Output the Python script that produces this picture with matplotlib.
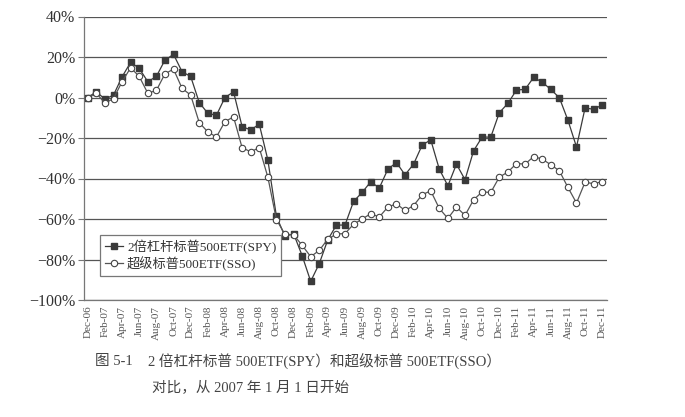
import matplotlib
matplotlib.use("Agg")
import matplotlib.pyplot as plt
import pandas as pd

months = list(pd.date_range("2006-12-01", periods=61, freq="MS").strftime("%b-%y"))

spy = [0.0, 2.8, -0.8, 1.2, 10.2, 17.4, 14.4, 7.8, 10.4, 18.5, 21.3, 12.7, 10.4,
       -2.5, -7.8, -8.8, 0.0, 2.8, -14.4, -16.0, -13.2, -30.8, -58.7, -68.6, -67.2,
       -78.1, -90.8, -82.0, -70.2, -63.0, -63.0, -51.3, -46.9, -41.6, -44.7, -35.4, -32.1,
       -38.2, -32.9, -23.5, -20.9, -35.4, -43.6, -32.9, -40.6, -26.3, -19.5, -19.6, -7.5,
       -2.9, 3.7, 4.0, 9.9, 7.6, 4.0, -0.1, -11.2, -24.4, -5.2, -5.8, -3.7]

sso = [0.0, 2.1, -2.8, -0.5, 7.8, 14.7, 10.4, 2.1, 3.5, 11.7, 14.0, 4.5, 1.2,
       -12.4, -17.0, -19.5, -11.9, -9.6, -24.8, -26.8, -24.8, -39.3, -60.3, -67.6, -67.8,
       -73.0, -78.6, -75.5, -69.9, -67.4, -67.2, -62.6, -60.0, -57.4, -59.0, -54.1, -52.5,
       -55.8, -53.4, -48.0, -46.1, -54.8, -59.7, -54.1, -58.2, -50.5, -46.6, -46.9, -39.3,
       -36.8, -32.6, -32.9, -29.2, -30.4, -33.2, -36.2, -44.4, -52.1, -41.8, -42.6, -41.5]

yticks = [-100, -80, -60, -40, -20, 0, 20, 40]
series_names = ["2倍杠杆标普500ETF(SPY)", "超级标普500ETF(SSO)"]
caption_head = "图 5-1"
caption_l1 = "2 倍杠杆标普 500ETF(SPY）和超级标普 500ETF(SSO）"
caption_l2 = "对比，从 2007 年 1 月 1 日开始"

fam = ["Liberation Serif", "Noto Sans CJK SC", "DejaVu Sans"]

W, H = 685, 417
fig = plt.figure(figsize=(W / 100, H / 100), dpi=100)
fig.patch.set_facecolor("white")
ax = fig.add_axes([83.5 / W, 1 - 300 / H, (606.5 - 83.5) / W, (300 - 16.5) / H])

x = list(range(len(months)))
ax.plot(x, spy, marker="s", ms=4.2, color="#3a3a3a", mfc="#3a3a3a", mec="#3a3a3a",
        lw=0.9, label=series_names[0], zorder=3)
ax.plot(x, sso, marker="o", ms=4.6, color="#555555", mfc="white", mec="#444444",
        mew=0.8, lw=0.9, label=series_names[1], zorder=3)

ax.set_xlim(-0.5, len(months) - 0.5)
ax.set_ylim(-100, 40)
ax.set_yticks(yticks)
ax.set_yticklabels([("−" if v < 0 else "") + f"{abs(v)}%" for v in yticks],
                   family=fam, fontsize=11.5, color="#333333")
ax.yaxis.grid(True, color="#555555", lw=0.9)
ax.set_axisbelow(True)
ax.set_xticks(x[::2])
ax.set_xticklabels(months[::2], rotation=90, family=fam, fontsize=8, color="#555555")
ax.tick_params(axis="x", length=0, pad=4)
ax.tick_params(axis="y", length=4, color="#777777", pad=2)
for s in ("top", "right"):
    ax.spines[s].set_visible(False)
for s in ("left", "bottom"):
    ax.spines[s].set_color("#777777")
    ax.spines[s].set_linewidth(0.9)

leg = ax.legend(loc="upper left", bbox_to_anchor=(0.0315, 0.229),
                prop={"family": fam, "size": 9.5}, frameon=True, fancybox=False,
                edgecolor="#777777", framealpha=1, handlelength=1.4, handletextpad=0.3,
                borderpad=0.35, labelspacing=0.2, borderaxespad=0)
leg.get_frame().set_linewidth(0.9)
for t in leg.get_texts():
    t.set_color("#333333")

fig.text(95 / W, 1 - 362 / H, caption_head, family=fam, fontsize=10.5,
         color="#444444", va="center", ha="left")
fig.text(148 / W, 1 - 362 / H, caption_l1, family=fam, fontsize=10.5,
         color="#444444", va="center", ha="left")
fig.text(152 / W, 1 - 388 / H, caption_l2, family=fam, fontsize=10.5,
         color="#444444", va="center", ha="left")

fig.savefig("out.png", dpi=100, facecolor="white")
